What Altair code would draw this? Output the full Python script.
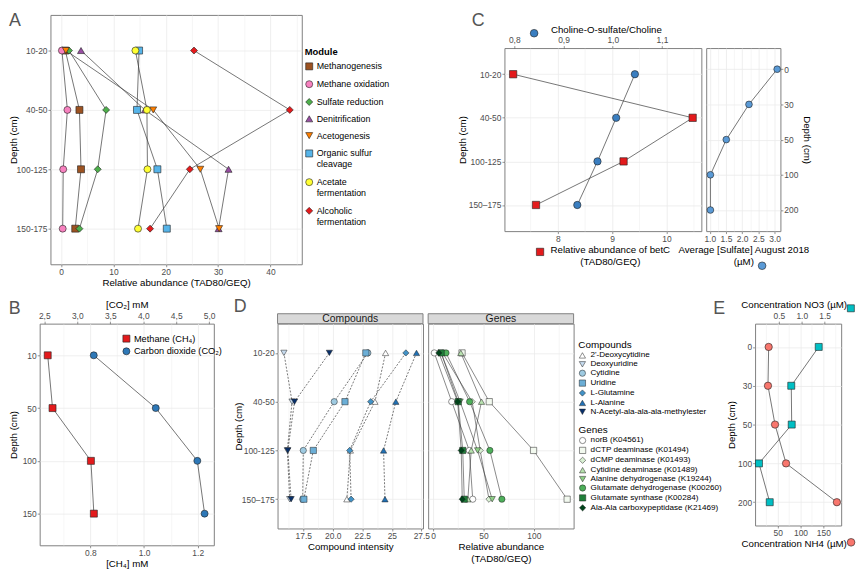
import altair as alt
import pandas as pd

FONT = "Liberation Sans"
INK = "#1f1f1f"
LINE_COL = "#3a3a3a"
GRID = "#EBEBEB"
BORDER = "#7F7F7F"
LETTER = "#555555"

# ---------------- Panel A data ----------------
depth_a = ["10-20", "40-50", "100-125", "150-175"]
modules = ["Methanogenesis", "Methane oxidation", "Sulfate reduction", "Denitrification",
           "Acetogenesis", "Organic sulfur cleavage", "Acetate fermentation", "Alcoholic fermentation"]
a_methanogenesis = [0.8, 3.5, 3.8, 2.7]
a_methane_oxidation = [0.15, 1.2, 0.4, 0.3]
a_sulfate_reduction = [1.5, 8.6, 7.0, 3.5]
a_denitrification = [3.8, 16.0, 32.0, 30.1]
a_acetogenesis = [0.9, 17.6, 26.6, 30.2]
a_organic_sulfur = [14.9, 14.5, 18.4, 20.2]
a_acetate_ferm = [14.2, 16.4, 16.5, 14.7]
a_alcoholic_ferm = [25.4, 43.7, 24.6, 17.0]
module_colors = ["#9C5221", "#F781BF", "#4DAF4A", "#984EA3", "#FF7F00", "#56B4E9", "#FFFF33", "#E41A1C"]
module_shapes = ["square", "circle", "diamond", "triangle-up", "triangle-down", "square", "circle", "diamond"]

# ---------------- Panel B data ----------------
depth_b = ["10", "50", "100", "150"]
ch4_mM = [0.641, 0.659, 0.802, 0.813]
co2_mM = [3.25, 4.19, 4.82, 4.93]
gases = ["Methane (CH₄)", "Carbon dioxide (CO₂)"]

# ---------------- Panel C data ----------------
depth_c = ["10-20", "40-50", "100-125", "150–175"]
betc_abundance = [7.18, 10.48, 9.21, 7.60]
choline_ratio = [1.045, 1.007, 0.969, 0.928]
depth_sulfate = ["0", "30", "50", "100", "200"]
sulfate_uM = [3.08, 2.21, 1.51, 1.02, 1.02]

# ---------------- Panel D data ----------------
compounds = ["2'-Deoxycytidine", "Deoxyuridine", "Cytidine", "Uridine", "L-Glutamine", "L-Alanine",
             "N-Acetyl-ala-ala-ala-methylester"]
c_deoxycytidine = [24.47, 23.57, 21.49, 21.19]
c_deoxyuridine = [15.86, 16.55, 16.15, 16.35]
c_cytidine = [22.97, 20.12, 17.50, 17.45]
c_uridine = [22.80, 21.03, 18.35, 17.55]
c_glutamine = [26.19, 23.21, 21.43, 21.55]
c_alanine = [27.09, 25.34, 24.30, 24.42]
c_nacetyl = [19.71, 16.76, 16.19, 16.47]
compound_colors = ["#FFFFFF", "#C6DBEF", "#9ECAE1", "#6BAED6", "#4292C6", "#2171B5", "#08306B"]
compound_shapes = ["triangle-up", "triangle-down", "circle", "square", "diamond", "triangle-up", "triangle-down"]

genes = ["norB (K04561)", "dCTP  deaminase (K01494)", "dCMP  deaminase (K01493)",
         "Cytidine deaminase (K01489)", "Alanine dehydrogenase (K19244)",
         "Glutamate dehydrogenase (K00260)", "Glutamate synthase (K00284)",
         "Ala-Ala carboxypeptidase (K21469)"]
g_norb = [1.3, 18.6, 36.0, 39.4]
g_dctp = [28.8, 55.8, 99.7, 133.0]
g_dcmp = [9.5, 38.8, 46.8, 55.5]
g_cytidine_deam = [27.6, 48.1, 37.9, 34.6]
g_alanine_dh = [8.0, 26.9, 44.2, 58.7]
g_glutamate_dh = [12.9, 36.3, 56.4, 68.3]
g_glutamate_syn = [8.1, 25.0, 29.5, 31.0]
g_ala_ala = [5.8, 24.5, 28.0, 29.0]
gene_colors = ["#FFFFFF", "#F2F9EF", "#D9F0D3", "#B7E2AE", "#8ECF87", "#4DAF5A", "#1F7F3A", "#00441B"]
gene_shapes = ["circle", "square", "diamond", "triangle-up", "triangle-down", "circle", "square", "diamond"]

# ---------------- Panel E data ----------------
depth_e = ["0", "30", "50", "100", "200"]
nh4_uM = [30.4, 28.9, 44.3, 68.4, 179.5]
no3_uM = [1.37, 0.77, 0.78, 0.065, 0.30]

# ---------------- sizes ----------------
WA, HA = 254, 252
WCL, WCR, HC = 199, 75, 185
WB, HB = 176, 224
WD, HD = 147, 207
WE, HE = 87, 204


def long_df(names, series, depths, key):
    rows = []
    for n, vals in zip(names, series):
        for i, (d, v) in enumerate(zip(depths, vals)):
            rows.append({key: n, "depth": d, "value": v, "idx": i})
    return pd.DataFrame(rows)


def ydep(order, axis):
    return alt.Y("depth:N", scale=alt.Scale(type="point", domain=order, padding=0.6), axis=axis)


def qscale(lo, hi):
    return alt.Scale(domain=[lo, hi], nice=False, zero=False)


def minor(values, orient="bottom"):
    return alt.Axis(orient=orient, values=values, labels=False, ticks=False, domain=False,
                    title=None, grid=True, gridWidth=0.45)


def sym_legend(x, y, shape, size=50):
    return alt.Legend(orient="none", legendX=x, legendY=y, title=None, labelExpr="''",
                      symbolType=shape, symbolSize=size, symbolStrokeColor=INK,
                      symbolStrokeWidth=0.6, labelFontSize=1, labelOffset=0)


def letter(t, dx, offset):
    return alt.TitleParams(t, anchor="start", frame="bounds", fontSize=18, color=LETTER,
                           fontWeight="normal", font=FONT, offset=offset, dx=dx)


def strip(label, w):
    d = pd.DataFrame({"label": [label]})
    rect = alt.Chart(d).mark_rect(fill="#D9D9D9", stroke=BORDER, strokeWidth=1).encode(
        x=alt.value(0), x2=alt.value(w), y=alt.value(-10), y2=alt.value(0))
    text = alt.Chart(d).mark_text(fontSize=10.5, color="#1a1a1a", baseline="middle", font=FONT).encode(
        x=alt.value(w / 2), y=alt.value(-4.8), text="label:N")
    return [rect, text]


def spacer(w):
    return alt.Chart(pd.DataFrame({"v": [0]})).mark_point(opacity=0).encode(
        x=alt.value(0), y=alt.value(0)).properties(width=w, height=1, view=alt.ViewBackground(strokeOpacity=0))


def pmark(**kw):
    base = dict(filled=True, opacity=1, stroke=INK, strokeWidth=0.6, size=50)
    base.update(kw)
    return base


# ================= Panel A =================
dfA = long_df(modules, [a_methanogenesis, a_methane_oxidation, a_sulfate_reduction, a_denitrification,
                        a_acetogenesis, a_organic_sulfur, a_acetate_ferm, a_alcoholic_ferm],
              depth_a, "module")
xA = qscale(-2.04, 46.0)
yA_axis = alt.Axis(title="Depth (cm)", grid=True, titleX=-32)
a_label_expr = ("datum.label == 'Organic sulfur cleavage' ? ['Organic sulfur', 'cleavage'] : "
                "datum.label == 'Acetate fermentation' ? ['Acetate', 'fermentation'] : "
                "datum.label == 'Alcoholic fermentation' ? ['Alcoholic', 'fermentation'] : datum.label")
legA = alt.Legend(title="Module", orient="none", legendX=257, legendY=33, titleFontWeight="bold",
                  titleFontSize=9.5, labelFontSize=9, symbolSize=50, symbolStrokeColor=INK,
                  symbolStrokeWidth=0.6, rowPadding=7, titlePadding=5, labelOffset=3,
                  labelExpr=a_label_expr, labelLimit=200)
lineA = alt.Chart(dfA).mark_line(color=LINE_COL, strokeWidth=0.7).encode(
    x=alt.X("value:Q", scale=xA, axis=minor([5, 15, 25, 35, 45], "top")),
    y=ydep(depth_a, yA_axis), detail="module:N", order="idx:Q")
ptA = alt.Chart(dfA).mark_point(**pmark()).encode(
    x=alt.X("value:Q", scale=xA, axis=alt.Axis(orient="bottom", values=[0, 10, 20, 30, 40],
                                                title="Relative abundance (TAD80/GEQ)", grid=True)),
    y=ydep(depth_a, yA_axis),
    color=alt.Color("module:N", scale=alt.Scale(domain=modules, range=module_colors), legend=legA),
    shape=alt.Shape("module:N", scale=alt.Scale(domain=modules, range=module_shapes), legend=legA))
chartA = alt.layer(lineA, ptA).resolve_scale(x="independent").properties(
    width=WA, height=HA, title=letter("A", 0, -15.4))

# ================= Panel B =================
dfB1 = pd.DataFrame({"depth": depth_b, "ch4": ch4_mM, "idx": range(4), "gas": gases[0]})
dfB2 = pd.DataFrame({"depth": depth_b, "co2": co2_mM, "idx": range(4), "gas": gases[1]})
xB1 = qscale(0.611, 1.26)
xB2 = qscale(2.43, 5.07)
yB_axis = alt.Axis(title="Depth (cm)", grid=True, titleX=-21.2)
legB = alt.Legend(title=None, orient="none", legendX=83, legendY=10.5, labelFontSize=9.3,
                  symbolSize=50, symbolStrokeColor=INK, symbolStrokeWidth=0.6, rowPadding=1.8,
                  labelOffset=3)
colorB = alt.Color("gas:N", scale=alt.Scale(domain=gases, range=["#E31A1C", "#2E78B7"]), legend=legB)
shapeB = alt.Shape("gas:N", scale=alt.Scale(domain=gases, range=["square", "circle"]), legend=legB)
comma = "replace(format(datum.value, '.1f'), '.', ',')"
lineB1 = alt.Chart(dfB1).mark_line(color=LINE_COL, strokeWidth=0.7).encode(
    x=alt.X("ch4:Q", scale=xB1, axis=minor([0.7, 0.9, 1.1])), y=ydep(depth_b, yB_axis), order="idx:Q")
ptB1 = alt.Chart(dfB1).mark_point(**pmark()).encode(
    x=alt.X("ch4:Q", scale=xB1, axis=alt.Axis(orient="bottom", values=[0.8, 1.0, 1.2], format=".1f",
                                               title="[CH₄] mM", grid=True)),
    y=ydep(depth_b, yB_axis), color=colorB, shape=shapeB)
lineB2 = alt.Chart(dfB2).mark_line(color=LINE_COL, strokeWidth=0.7).encode(
    x=alt.X("co2:Q", scale=xB2, axis=None), y=ydep(depth_b, yB_axis), order="idx:Q")
ptB2 = alt.Chart(dfB2).mark_point(**pmark()).encode(
    x=alt.X("co2:Q", scale=xB2, axis=alt.Axis(orient="top", values=[2.5, 3.0, 3.5, 4.0, 4.5, 5.0],
                                             labelExpr=comma, title="[CO₂] mM", grid=False)),
    y=ydep(depth_b, yB_axis), color=colorB, shape=shapeB)
chartB = alt.layer(lineB1, ptB1, lineB2, ptB2).resolve_scale(x="independent").properties(
    width=WB, height=HB, title=letter("B", 0, -18.5))

# ================= Panel C (left) =================
dfC = pd.DataFrame({"depth": depth_c, "betc": betc_abundance, "ratio": choline_ratio,
                    "idx": range(4), "s": "betC", "c": "ratio"})
xC1 = qscale(7.02, 10.64)
xC2 = qscale(0.78, 1.18)
yC_axis = alt.Axis(title="Depth (cm)", grid=True, titleX=-37)
lineC1 = alt.Chart(dfC).mark_line(color=LINE_COL, strokeWidth=0.7).encode(
    x=alt.X("betc:Q", scale=xC1, axis=minor([7.5, 8.5, 9.5, 10.5])), y=ydep(depth_c, yC_axis), order="idx:Q")
ptC1 = alt.Chart(dfC).mark_point(**pmark(size=55, shape="square")).encode(
    x=alt.X("betc:Q", scale=xC1, axis=alt.Axis(orient="bottom", values=[8, 9, 10], grid=True,
                                                title=["Relative abundance of betC", "(TAD80/GEQ)"],
                                                titleX=WCL / 2 + 7)),
    y=ydep(depth_c, yC_axis),
    color=alt.Color("s:N", scale=alt.Scale(domain=["betC"], range=["#E31A1C"]),
                    legend=sym_legend(31.5, 201.5, "square", 55)))
lineC2 = alt.Chart(dfC).mark_line(color=LINE_COL, strokeWidth=0.7).encode(
    x=alt.X("ratio:Q", scale=xC2, axis=None), y=ydep(depth_c, yC_axis), order="idx:Q")
ptC2 = alt.Chart(dfC).mark_point(**pmark(size=55, shape="circle")).encode(
    x=alt.X("ratio:Q", scale=xC2, axis=alt.Axis(orient="top", values=[0.8, 0.9, 1.0, 1.1], labelExpr=comma,
                                                 grid=False, title="Choline-O-sulfate/Choline",
                                                 titleX=WCL / 2 + 3)),
    y=ydep(depth_c, yC_axis),
    color=alt.Color("c:N", scale=alt.Scale(domain=["ratio"], range=["#3A7EC0"]),
                    legend=sym_legend(25.5, -19.5, "circle", 60)))
chartCl = alt.layer(lineC1, ptC1, lineC2, ptC2).resolve_scale(x="independent", color="independent").properties(
    width=WCL, height=HC, title=letter("C", 14, -5.2))

# ================= Panel C (right) =================
dfS = pd.DataFrame({"depth": depth_sulfate, "sulfate": sulfate_uM, "idx": range(5), "k": "sulfate"})
xS = qscale(0.89, 3.18)
yS_axis = alt.Axis(orient="right", title="Depth (cm)", grid=True, titlePadding=4)
lineS = alt.Chart(dfS).mark_line(color=LINE_COL, strokeWidth=0.7).encode(
    x=alt.X("sulfate:Q", scale=xS, axis=minor([1.25, 1.75, 2.25, 2.75])), y=ydep(depth_sulfate, yS_axis),
    order="idx:Q")
ptS = alt.Chart(dfS).mark_point(**pmark(size=46, shape="circle")).encode(
    x=alt.X("sulfate:Q", scale=xS, axis=alt.Axis(orient="bottom", values=[1.0, 1.5, 2.0, 2.5, 3.0], format=".1f",
                                                  grid=True, title=["Average [Sulfate] August 2018", "(µM)"])),
    y=ydep(depth_sulfate, yS_axis),
    color=alt.Color("k:N", scale=alt.Scale(domain=["sulfate"], range=["#5A9AD6"]),
                    legend=sym_legend(52, 215.5, "circle", 60)))
chartCr = alt.layer(lineS, ptS).resolve_scale(x="independent").properties(width=WCR, height=HC)

# ================= Panel D =================
dfDc = long_df(compounds, [c_deoxycytidine, c_deoxyuridine, c_cytidine, c_uridine, c_glutamine,
                           c_alanine, c_nacetyl], depth_c, "compound")
dfDg = long_df(genes, [g_norb, g_dctp, g_dcmp, g_cytidine_deam, g_alanine_dh, g_glutamate_dh,
                       g_glutamate_syn, g_ala_ala], depth_c, "gene")
xDc = qscale(15.32, 27.64)
xDg = qscale(-4.8, 139.4)
yDc_axis = alt.Axis(title="Depth (cm)", grid=True, titleX=-34.3)
yDg_axis = alt.Axis(labels=False, ticks=False, title=None, grid=True)


def d_legend(title, x, y):
    return alt.Legend(title=title, orient="none", legendX=x, legendY=y, titleFontSize=10,
                      titleFontWeight="normal", labelFontSize=8.2, symbolSize=40, rowPadding=0,
                      titlePadding=1, labelOffset=4, symbolStrokeColor=INK, symbolStrokeWidth=0.5,
                      labelLimit=300)


legDc = d_legend("Compounds", 304, 17)
legDg = d_legend("Genes", 152, 103)
lineDc = alt.Chart(dfDc).mark_line(color="#555555", strokeWidth=0.8, strokeDash=[2, 1.5]).encode(
    x=alt.X("value:Q", scale=xDc, axis=minor([16.25, 18.75, 21.25, 23.75, 26.25])),
    y=ydep(depth_c, yDc_axis), detail="compound:N", order="idx:Q")
ptDc = alt.Chart(dfDc).mark_point(**pmark(size=40, strokeWidth=0.5)).encode(
    x=alt.X("value:Q", scale=xDc, axis=alt.Axis(orient="bottom", values=[17.5, 20, 22.5, 25, 27.5], grid=True,
                                                 labelExpr="datum.value == 25 ? '25' : format(datum.value, '.1f')",
                                                 title="Compound intensity")),
    y=ydep(depth_c, yDc_axis),
    color=alt.Color("compound:N", scale=alt.Scale(domain=compounds, range=compound_colors), legend=legDc),
    shape=alt.Shape("compound:N", scale=alt.Scale(domain=compounds, range=compound_shapes), legend=legDc))
chartDc = alt.layer(*strip("Compounds", WD), lineDc, ptDc).resolve_scale(x="independent").properties(
    width=WD, height=HD, title=letter("D", 0, -3))

lineDg = alt.Chart(dfDg).mark_line(color=LINE_COL, strokeWidth=0.6).encode(
    x=alt.X("value:Q", scale=xDg, axis=minor([25, 75, 125])),
    y=ydep(depth_c, yDg_axis), detail="gene:N", order="idx:Q")
ptDg = alt.Chart(dfDg).mark_point(**pmark(size=40, strokeWidth=0.5)).encode(
    x=alt.X("value:Q", scale=xDg, axis=alt.Axis(orient="bottom", values=[0, 50, 100], grid=True,
                                                 title=["Relative abundance", "(TAD80/GEQ)"])),
    y=ydep(depth_c, yDg_axis),
    color=alt.Color("gene:N", scale=alt.Scale(domain=genes, range=gene_colors), legend=legDg),
    shape=alt.Shape("gene:N", scale=alt.Scale(domain=genes, range=gene_shapes), legend=legDg))
chartDg = alt.layer(*strip("Genes", WD), lineDg, ptDg).resolve_scale(x="independent").properties(
    width=WD, height=HD)

# ================= Panel E =================
dfE1 = pd.DataFrame({"depth": depth_e, "nh4": nh4_uM, "idx": range(5), "n": "nh4"})
dfE2 = pd.DataFrame({"depth": depth_e, "no3": no3_uM, "idx": range(5), "o": "no3"})
xE1 = qscale(0.7, 188.9)
xE2 = qscale(-0.02, 1.86)
yE_axis = alt.Axis(title="Depth (cm)", grid=True, titleX=-19)
lineE1 = alt.Chart(dfE1).mark_line(color=LINE_COL, strokeWidth=0.7).encode(
    x=alt.X("nh4:Q", scale=xE1, axis=minor([25, 75, 125, 175])), y=ydep(depth_e, yE_axis), order="idx:Q")
ptE1 = alt.Chart(dfE1).mark_point(**pmark(size=55, shape="circle")).encode(
    x=alt.X("nh4:Q", scale=xE1, axis=alt.Axis(orient="bottom", values=[50, 100, 150], grid=True,
                                               title="Concentration NH4 (µM)", titleX=WE / 2 - 4.5)),
    y=ydep(depth_e, yE_axis),
    color=alt.Color("n:N", scale=alt.Scale(domain=["nh4"], range=["#F8766D"]),
                    legend=sym_legend(92.5, 216.5, "circle", 60)))
lineE2 = alt.Chart(dfE2).mark_line(color=LINE_COL, strokeWidth=0.7).encode(
    x=alt.X("no3:Q", scale=xE2, axis=None), y=ydep(depth_e, yE_axis), order="idx:Q")
ptE2 = alt.Chart(dfE2).mark_point(**pmark(size=50, shape="square")).encode(
    x=alt.X("no3:Q", scale=xE2, axis=alt.Axis(orient="top", values=[0.5, 1.0, 1.5], format=".1f", grid=False,
                                               title="Concentration NO3 (µM)", titleX=WE / 2 - 4.5)),
    y=ydep(depth_e, yE_axis),
    color=alt.Color("o:N", scale=alt.Scale(domain=["no3"], range=["#00BFC4"]),
                    legend=sym_legend(92.8, -19.5, "square", 50)))
chartE = alt.layer(lineE1, ptE1, lineE2, ptE2).resolve_scale(x="independent", color="independent").properties(
    width=WE, height=HE, title=letter("E", -13.3, -18))

# ================= layout =================
IND = dict(color="independent", shape="independent")
row1 = alt.hconcat(spacer(5.9), chartA, spacer(194.5), chartCl, chartCr, spacing=4.9, bounds="flush",
                   center=True).resolve_scale(**IND)
row2 = alt.hconcat(chartB, spacer(54), chartDc, chartDg, spacer(173), chartE, spacing=5.2,
                   bounds="flush").resolve_scale(**IND)

chart = alt.vconcat(row1, row2, spacing=10).resolve_scale(**IND).properties(padding=0).configure(
    font=FONT
).configure_view(
    stroke=BORDER, strokeWidth=1
).configure_axis(
    labelFont=FONT, titleFont=FONT, labelFontSize=8.5, titleFontSize=9.8, labelColor="#4D4D4D",
    titleColor="#000000", titleFontWeight="normal", domain=False, tickColor="#4D4D4D", tickSize=2.5,
    tickWidth=0.6, labelPadding=1, titlePadding=1.5, gridColor=GRID, gridWidth=0.8
).configure_legend(
    labelFont=FONT, titleFont=FONT, labelColor="#000000", titleColor="#000000", padding=0
).configure_title(font=FONT)

chart.save("out.html", embed_options={"renderer": "svg", "actions": False})
